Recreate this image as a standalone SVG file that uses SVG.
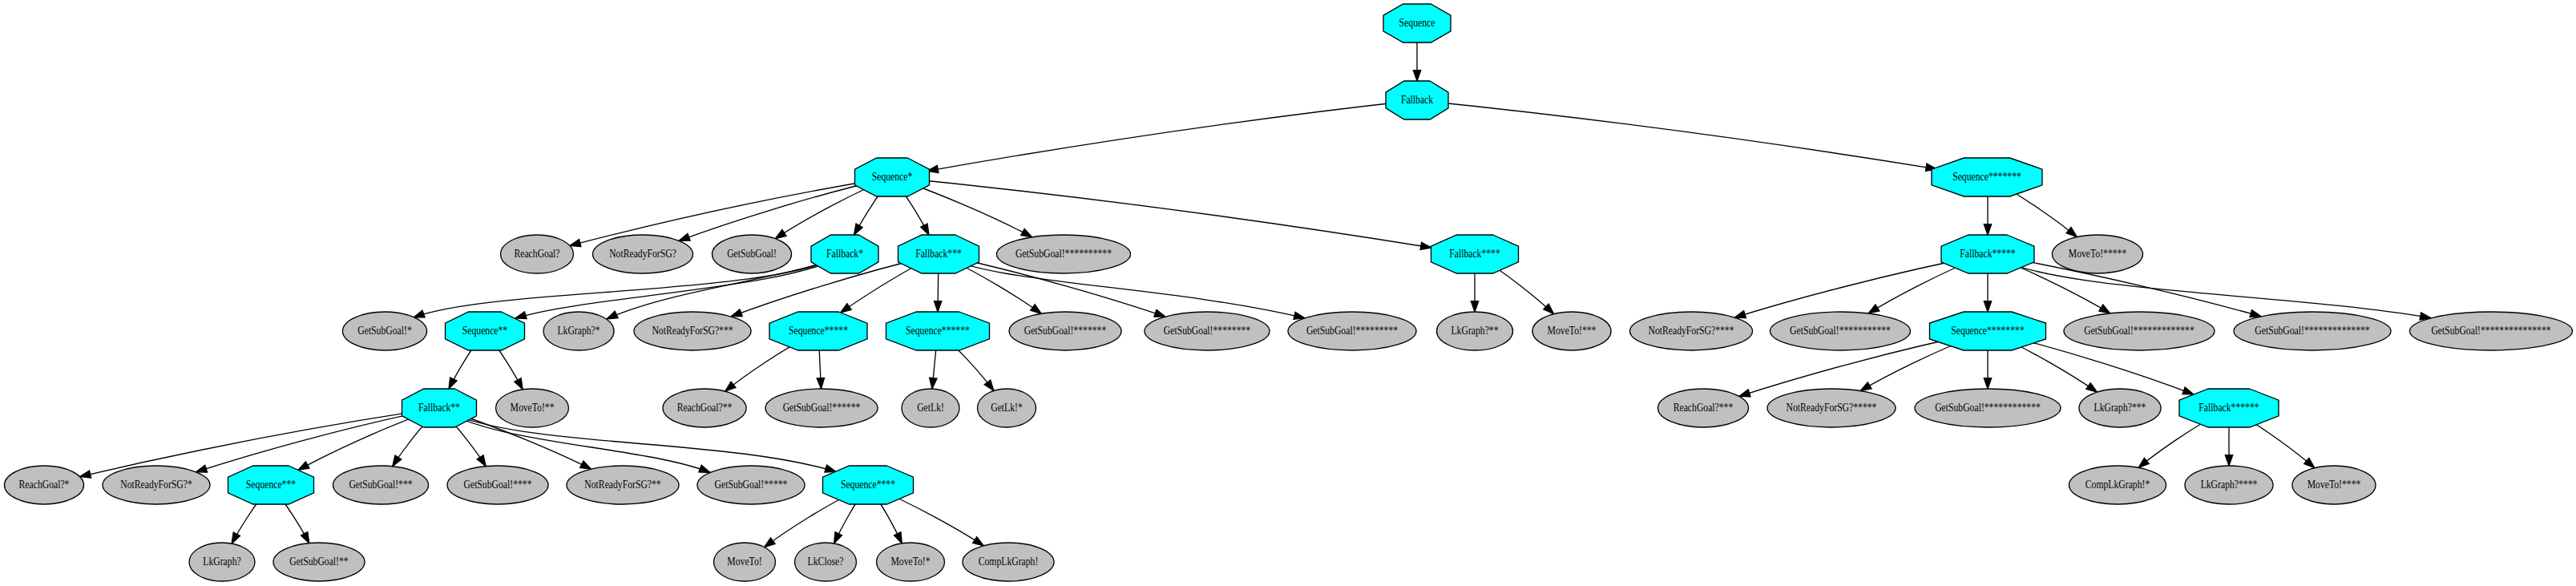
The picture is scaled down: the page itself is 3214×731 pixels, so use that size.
<svg xmlns="http://www.w3.org/2000/svg" width="3214" height="731" viewBox="0 0 3214 731">
<style>
.oct{fill:#00ffff;stroke:#000;stroke-width:1.33}
.ell{fill:#c0c0c0;stroke:#000;stroke-width:1.33}
.lbl{font-family:"Liberation Serif","Times New Roman",serif;font-size:14.6px;text-anchor:middle;fill:#000}
.edges path{fill:none;stroke:#000;stroke-width:1.33;marker-end:url(#arr)}
</style>
<defs>
<marker id="arr" markerUnits="userSpaceOnUse" markerWidth="16" markerHeight="12" refX="13.33" refY="4.67" orient="auto" overflow="visible">
<path d="M0,0 L13.33,4.67 L0,9.33 Z" fill="#000" stroke="#000" stroke-width="1.33"/>
</marker>
</defs>
<rect width="3214" height="731" fill="#fff"/>
<g class="edges" id="connectors">
<path d="M1768,29 L1768,101"/>
<path d="M1768,125 C1549.7,149 1331.3,182.6 1157,213.3"/>
<path d="M1768,125 C2005,149 2242,182.6 2416.4,210.9"/>
<path d="M1113,221 C965.3,245 817.7,278.6 710.8,306.4"/>
<path d="M1113,221 C1009.3,245 905.7,278.6 847,300.3"/>
<path d="M1113,221 C1054.7,245 996.3,278.6 967.3,297.7"/>
<path d="M1113,221 C1093.3,245 1073.7,278.6 1065.5,293"/>
<path d="M1113,221 C1132.3,245 1151.7,278.6 1158.9,293"/>
<path d="M1113,221 C1184.3,245 1255.7,278.6 1287.7,295.8"/>
<path d="M1113,221 C1355.3,245 1597.7,278.6 1786,309"/>
<path d="M1054,317 C960,370 620,358 516,396"/>
<path d="M1054,317 C990,360 740,368 643,397"/>
<path d="M1054,317 C1000,345 840,360 757,398"/>
<path d="M605,413 C586,437 567,470.6 560,485"/>
<path d="M605,413 C624.7,437 644.3,470.6 652.1,485.8"/>
<path d="M548,509 C383.7,533 219.3,566.6 99.6,594.6"/>
<path d="M548,509 C430.3,533 312.7,566.6 244.5,588.8"/>
<path d="M548,509 C478,533 408,566.6 372,586.4"/>
<path d="M548,509 C523.7,533 499.3,566.6 489.7,581.7"/>
<path d="M548,509 C572.3,533 596.7,566.6 606.2,581.7"/>
<path d="M548,509 C624.3,533 700.7,566.6 737.6,585.2"/>
<path d="M548,509 C620,555 800,556 886,589.4"/>
<path d="M548,509 C640,560 900,545 1043,588.5"/>
<path d="M338,605 C317.7,629 297.3,662.6 289.1,678.1"/>
<path d="M338,605 C358,629 378,662.6 385.8,677.6"/>
<path d="M1083,605 C1031.7,629 980.3,662.6 953.6,682.6"/>
<path d="M1083,605 C1065.3,629 1047.7,662.6 1040.6,677.9"/>
<path d="M1083,605 C1100.7,629 1118.3,662.6 1125.3,677.8"/>
<path d="M1083,605 C1141.3,629 1199.7,662.6 1227.3,680.8"/>
<path d="M1171,317 C1068.7,341 966.3,374.6 912.1,394.9"/>
<path d="M1171,317 C1121,341 1071,374.6 1048.5,390"/>
<path d="M1171,317 L1170,389"/>
<path d="M1171,317 C1223.7,341 1276.3,374.6 1299.2,391.3"/>
<path d="M1171,317 C1282.7,341 1394.3,374.6 1454,395.1"/>
<path d="M1171,317 C1240,355 1450,355 1628,396.8"/>
<path d="M1021,413 C973.7,437 926.3,470.6 904.7,488.1"/>
<path d="M1021,413 L1024.5,485"/>
<path d="M1170,413 L1163,485"/>
<path d="M1170,413 C1198.7,437 1227.3,470.6 1239.9,487.5"/>
<path d="M1840,317 L1840,389"/>
<path d="M1840,317 C1880.3,341 1920.7,374.6 1938.6,391.7"/>
<path d="M2480,221 L2480,293"/>
<path d="M2479,221 C2525,245 2571,278.6 2591.4,295.6"/>
<path d="M2480,317 C2356.7,341 2233.3,374.6 2164.3,396.1"/>
<path d="M2480,317 C2418.7,341 2357.3,374.6 2331.1,391"/>
<path d="M2480,317 L2480,389"/>
<path d="M2480,317 C2543,341 2606,374.6 2632.7,390.9"/>
<path d="M2480,317 C2615,341 2750,374.6 2821.1,394.8"/>
<path d="M2480,317 C2560,365 2850,365 3033,396.7"/>
<path d="M2480,413 C2361.7,437 2243.3,470.6 2169.9,494.4"/>
<path d="M2480,413 C2415,437 2350,470.6 2321.2,487.6"/>
<path d="M2480,413 L2480,485"/>
<path d="M2480,413 C2535,437 2590,470.6 2616.5,489.1"/>
<path d="M2480,413 C2580.3,437 2680.7,470.6 2737,492.1"/>
<path d="M2781,509 C2734.7,533 2688.3,566.6 2668.1,583.4"/>
<path d="M2781,509 L2781,581"/>
<path d="M2781,509 C2824.7,533 2868.3,566.6 2887.8,583.7"/>
</g>
<g id="nodes">
<g id="Sequence" transform="translate(1768,29)"><polygon class="oct" points="17.4,-24 42,-9.9 42,9.9 17.4,24 -17.4,24 -42,9.9 -42,-9.9 -17.4,-24"/><text class="lbl" y="4" transform="scale(0.8 1)">Sequence</text></g>
<g id="Fallback" transform="translate(1768,125)"><polygon class="oct" points="16.1,-24 39,-9.9 39,9.9 16.1,24 -16.1,24 -39,9.9 -39,-9.9 -16.1,-24"/><text class="lbl" y="4" transform="scale(0.8 1)">Fallback</text></g>
<g id="Sequence1" transform="translate(1113,221)"><polygon class="oct" points="19.3,-24 46.5,-9.9 46.5,9.9 19.3,24 -19.3,24 -46.5,9.9 -46.5,-9.9 -19.3,-24"/><text class="lbl" y="4" transform="scale(0.8 1)">Sequence*</text></g>
<g id="Sequence7" transform="translate(2479,221)"><polygon class="oct" points="28.6,-24 69,-9.9 69,9.9 28.6,24 -28.6,24 -69,9.9 -69,-9.9 -28.6,-24"/><text class="lbl" y="4" transform="scale(0.8 1)">Sequence*******</text></g>
<g id="ReachGoal" transform="translate(670,317)"><ellipse class="ell" rx="45.5" ry="24"/><text class="lbl" y="4" transform="scale(0.8 1)">ReachGoal?</text></g>
<g id="NotReadyForSG" transform="translate(802,317)"><ellipse class="ell" rx="62.5" ry="24"/><text class="lbl" y="4" transform="scale(0.8 1)">NotReadyForSG?</text></g>
<g id="GetSubGoal" transform="translate(938,317)"><ellipse class="ell" rx="49.5" ry="24"/><text class="lbl" y="4" transform="scale(0.8 1)">GetSubGoal!</text></g>
<g id="Fallback1" transform="translate(1054,317)"><polygon class="oct" points="17.4,-24 42,-9.9 42,9.9 17.4,24 -17.4,24 -42,9.9 -42,-9.9 -17.4,-24"/><text class="lbl" y="4" transform="scale(0.8 1)">Fallback*</text></g>
<g id="Fallback3" transform="translate(1171,317)"><polygon class="oct" points="20.9,-24 50.5,-9.9 50.5,9.9 20.9,24 -20.9,24 -50.5,9.9 -50.5,-9.9 -20.9,-24"/><text class="lbl" y="4" transform="scale(0.8 1)">Fallback***</text></g>
<g id="GetSubGoal10" transform="translate(1327,317)"><ellipse class="ell" rx="83.5" ry="24"/><text class="lbl" y="4" transform="scale(0.8 1)">GetSubGoal!**********</text></g>
<g id="Fallback4" transform="translate(1840,317)"><polygon class="oct" points="22.6,-24 54.5,-9.9 54.5,9.9 22.6,24 -22.6,24 -54.5,9.9 -54.5,-9.9 -22.6,-24"/><text class="lbl" y="4" transform="scale(0.8 1)">Fallback****</text></g>
<g id="Fallback5" transform="translate(2480,317)"><polygon class="oct" points="24,-24 58,-9.9 58,9.9 24,24 -24,24 -58,9.9 -58,-9.9 -24,-24"/><text class="lbl" y="4" transform="scale(0.8 1)">Fallback*****</text></g>
<g id="MoveTo5" transform="translate(2617,317)"><ellipse class="ell" rx="56.5" ry="24"/><text class="lbl" y="4" transform="scale(0.8 1)">MoveTo!*****</text></g>
<g id="GetSubGoal1" transform="translate(480,413)"><ellipse class="ell" rx="52.5" ry="24"/><text class="lbl" y="4" transform="scale(0.8 1)">GetSubGoal!*</text></g>
<g id="Sequence2" transform="translate(605,413)"><polygon class="oct" points="20.5,-24 49.5,-9.9 49.5,9.9 20.5,24 -20.5,24 -49.5,9.9 -49.5,-9.9 -20.5,-24"/><text class="lbl" y="4" transform="scale(0.8 1)">Sequence**</text></g>
<g id="LkGraph1" transform="translate(722,413)"><ellipse class="ell" rx="44" ry="24"/><text class="lbl" y="4" transform="scale(0.8 1)">LkGraph?*</text></g>
<g id="NotReadyForSG3" transform="translate(864,413)"><ellipse class="ell" rx="73" ry="24"/><text class="lbl" y="4" transform="scale(0.8 1)">NotReadyForSG?***</text></g>
<g id="Sequence5" transform="translate(1021,413)"><polygon class="oct" points="25.3,-24 61,-9.9 61,9.9 25.3,24 -25.3,24 -61,9.9 -61,-9.9 -25.3,-24"/><text class="lbl" y="4" transform="scale(0.8 1)">Sequence*****</text></g>
<g id="Sequence6" transform="translate(1170,413)"><polygon class="oct" points="26.7,-24 64.5,-9.9 64.5,9.9 26.7,24 -26.7,24 -64.5,9.9 -64.5,-9.9 -26.7,-24"/><text class="lbl" y="4" transform="scale(0.8 1)">Sequence******</text></g>
<g id="GetSubGoal7" transform="translate(1329,413)"><ellipse class="ell" rx="70" ry="24"/><text class="lbl" y="4" transform="scale(0.8 1)">GetSubGoal!*******</text></g>
<g id="GetSubGoal8" transform="translate(1506,413)"><ellipse class="ell" rx="78" ry="24"/><text class="lbl" y="4" transform="scale(0.8 1)">GetSubGoal!********</text></g>
<g id="GetSubGoal9" transform="translate(1687,413)"><ellipse class="ell" rx="80" ry="24"/><text class="lbl" y="4" transform="scale(0.8 1)">GetSubGoal!*********</text></g>
<g id="LkGraph2" transform="translate(1840,413)"><ellipse class="ell" rx="47.5" ry="24"/><text class="lbl" y="4" transform="scale(0.8 1)">LkGraph?**</text></g>
<g id="MoveTo3" transform="translate(1961,413)"><ellipse class="ell" rx="49" ry="24"/><text class="lbl" y="4" transform="scale(0.8 1)">MoveTo!***</text></g>
<g id="NotReadyForSG4" transform="translate(2110,413)"><ellipse class="ell" rx="76.5" ry="24"/><text class="lbl" y="4" transform="scale(0.8 1)">NotReadyForSG?****</text></g>
<g id="GetSubGoal11" transform="translate(2296,413)"><ellipse class="ell" rx="87.5" ry="24"/><text class="lbl" y="4" transform="scale(0.8 1)">GetSubGoal!***********</text></g>
<g id="Sequence8" transform="translate(2480,413)"><polygon class="oct" points="30,-24 72.5,-9.9 72.5,9.9 30,24 -30,24 -72.5,9.9 -72.5,-9.9 -30,-24"/><text class="lbl" y="4" transform="scale(0.8 1)">Sequence********</text></g>
<g id="GetSubGoal13" transform="translate(2669,413)"><ellipse class="ell" rx="94" ry="24"/><text class="lbl" y="4" transform="scale(0.8 1)">GetSubGoal!*************</text></g>
<g id="GetSubGoal14" transform="translate(2885,413)"><ellipse class="ell" rx="98" ry="24"/><text class="lbl" y="4" transform="scale(0.8 1)">GetSubGoal!**************</text></g>
<g id="GetSubGoal15" transform="translate(3108,413)"><ellipse class="ell" rx="101.5" ry="24"/><text class="lbl" y="4" transform="scale(0.8 1)">GetSubGoal!***************</text></g>
<g id="Fallback2" transform="translate(548,509)"><polygon class="oct" points="19.3,-24 46.5,-9.9 46.5,9.9 19.3,24 -19.3,24 -46.5,9.9 -46.5,-9.9 -19.3,-24"/><text class="lbl" y="4" transform="scale(0.8 1)">Fallback**</text></g>
<g id="MoveTo2" transform="translate(664,509)"><ellipse class="ell" rx="45.5" ry="24"/><text class="lbl" y="4" transform="scale(0.8 1)">MoveTo!**</text></g>
<g id="ReachGoal2" transform="translate(879,509)"><ellipse class="ell" rx="52" ry="24"/><text class="lbl" y="4" transform="scale(0.8 1)">ReachGoal?**</text></g>
<g id="GetSubGoal6" transform="translate(1025,509)"><ellipse class="ell" rx="70" ry="24"/><text class="lbl" y="4" transform="scale(0.8 1)">GetSubGoal!******</text></g>
<g id="GetLk" transform="translate(1161,509)"><ellipse class="ell" rx="36" ry="24"/><text class="lbl" y="4" transform="scale(0.8 1)">GetLk!</text></g>
<g id="GetLk1" transform="translate(1256,509)"><ellipse class="ell" rx="36.5" ry="24"/><text class="lbl" y="4" transform="scale(0.8 1)">GetLk!*</text></g>
<g id="ReachGoal3" transform="translate(2125,509)"><ellipse class="ell" rx="56.5" ry="24"/><text class="lbl" y="4" transform="scale(0.8 1)">ReachGoal?***</text></g>
<g id="NotReadyForSG5" transform="translate(2285,509)"><ellipse class="ell" rx="80" ry="24"/><text class="lbl" y="4" transform="scale(0.8 1)">NotReadyForSG?*****</text></g>
<g id="GetSubGoal12" transform="translate(2480,509)"><ellipse class="ell" rx="91" ry="24"/><text class="lbl" y="4" transform="scale(0.8 1)">GetSubGoal!************</text></g>
<g id="LkGraph3" transform="translate(2645,509)"><ellipse class="ell" rx="51" ry="24"/><text class="lbl" y="4" transform="scale(0.8 1)">LkGraph?***</text></g>
<g id="Fallback6" transform="translate(2781,509)"><polygon class="oct" points="25.7,-24 62,-9.9 62,9.9 25.7,24 -25.7,24 -62,9.9 -62,-9.9 -25.7,-24"/><text class="lbl" y="4" transform="scale(0.8 1)">Fallback******</text></g>
<g id="ReachGoal1" transform="translate(55,605)"><ellipse class="ell" rx="49.5" ry="24"/><text class="lbl" y="4" transform="scale(0.8 1)">ReachGoal?*</text></g>
<g id="NotReadyForSG1" transform="translate(195,605)"><ellipse class="ell" rx="67" ry="24"/><text class="lbl" y="4" transform="scale(0.8 1)">NotReadyForSG?*</text></g>
<g id="Sequence3" transform="translate(338,605)"><polygon class="oct" points="22.1,-24 53.5,-9.9 53.5,9.9 22.1,24 -22.1,24 -53.5,9.9 -53.5,-9.9 -22.1,-24"/><text class="lbl" y="4" transform="scale(0.8 1)">Sequence***</text></g>
<g id="GetSubGoal3" transform="translate(475,605)"><ellipse class="ell" rx="59.5" ry="24"/><text class="lbl" y="4" transform="scale(0.8 1)">GetSubGoal!***</text></g>
<g id="GetSubGoal4" transform="translate(621,605)"><ellipse class="ell" rx="63" ry="24"/><text class="lbl" y="4" transform="scale(0.8 1)">GetSubGoal!****</text></g>
<g id="NotReadyForSG2" transform="translate(777,605)"><ellipse class="ell" rx="70" ry="24"/><text class="lbl" y="4" transform="scale(0.8 1)">NotReadyForSG?**</text></g>
<g id="GetSubGoal5" transform="translate(937,605)"><ellipse class="ell" rx="67" ry="24"/><text class="lbl" y="4" transform="scale(0.8 1)">GetSubGoal!*****</text></g>
<g id="Sequence4" transform="translate(1083,605)"><polygon class="oct" points="23.4,-24 56.5,-9.9 56.5,9.9 23.4,24 -23.4,24 -56.5,9.9 -56.5,-9.9 -23.4,-24"/><text class="lbl" y="4" transform="scale(0.8 1)">Sequence****</text></g>
<g id="CompLkGraph1" transform="translate(2642,605)"><ellipse class="ell" rx="60.5" ry="24"/><text class="lbl" y="4" transform="scale(0.8 1)">CompLkGraph!*</text></g>
<g id="LkGraph4" transform="translate(2781,605)"><ellipse class="ell" rx="55" ry="24"/><text class="lbl" y="4" transform="scale(0.8 1)">LkGraph?****</text></g>
<g id="MoveTo4" transform="translate(2912,605)"><ellipse class="ell" rx="52" ry="24"/><text class="lbl" y="4" transform="scale(0.8 1)">MoveTo!****</text></g>
<g id="LkGraph" transform="translate(277,701)"><ellipse class="ell" rx="41" ry="24"/><text class="lbl" y="4" transform="scale(0.8 1)">LkGraph?</text></g>
<g id="GetSubGoal2" transform="translate(398,701)"><ellipse class="ell" rx="57" ry="24"/><text class="lbl" y="4" transform="scale(0.8 1)">GetSubGoal!**</text></g>
<g id="MoveTo" transform="translate(929,701)"><ellipse class="ell" rx="38.5" ry="24"/><text class="lbl" y="4" transform="scale(0.8 1)">MoveTo!</text></g>
<g id="LkClose" transform="translate(1030,701)"><ellipse class="ell" rx="38.5" ry="24"/><text class="lbl" y="4" transform="scale(0.8 1)">LkClose?</text></g>
<g id="MoveTo1" transform="translate(1136,701)"><ellipse class="ell" rx="42.5" ry="24"/><text class="lbl" y="4" transform="scale(0.8 1)">MoveTo!*</text></g>
<g id="CompLkGraph" transform="translate(1258,701)"><ellipse class="ell" rx="57" ry="24"/><text class="lbl" y="4" transform="scale(0.8 1)">CompLkGraph!</text></g>
</g>
</svg>
